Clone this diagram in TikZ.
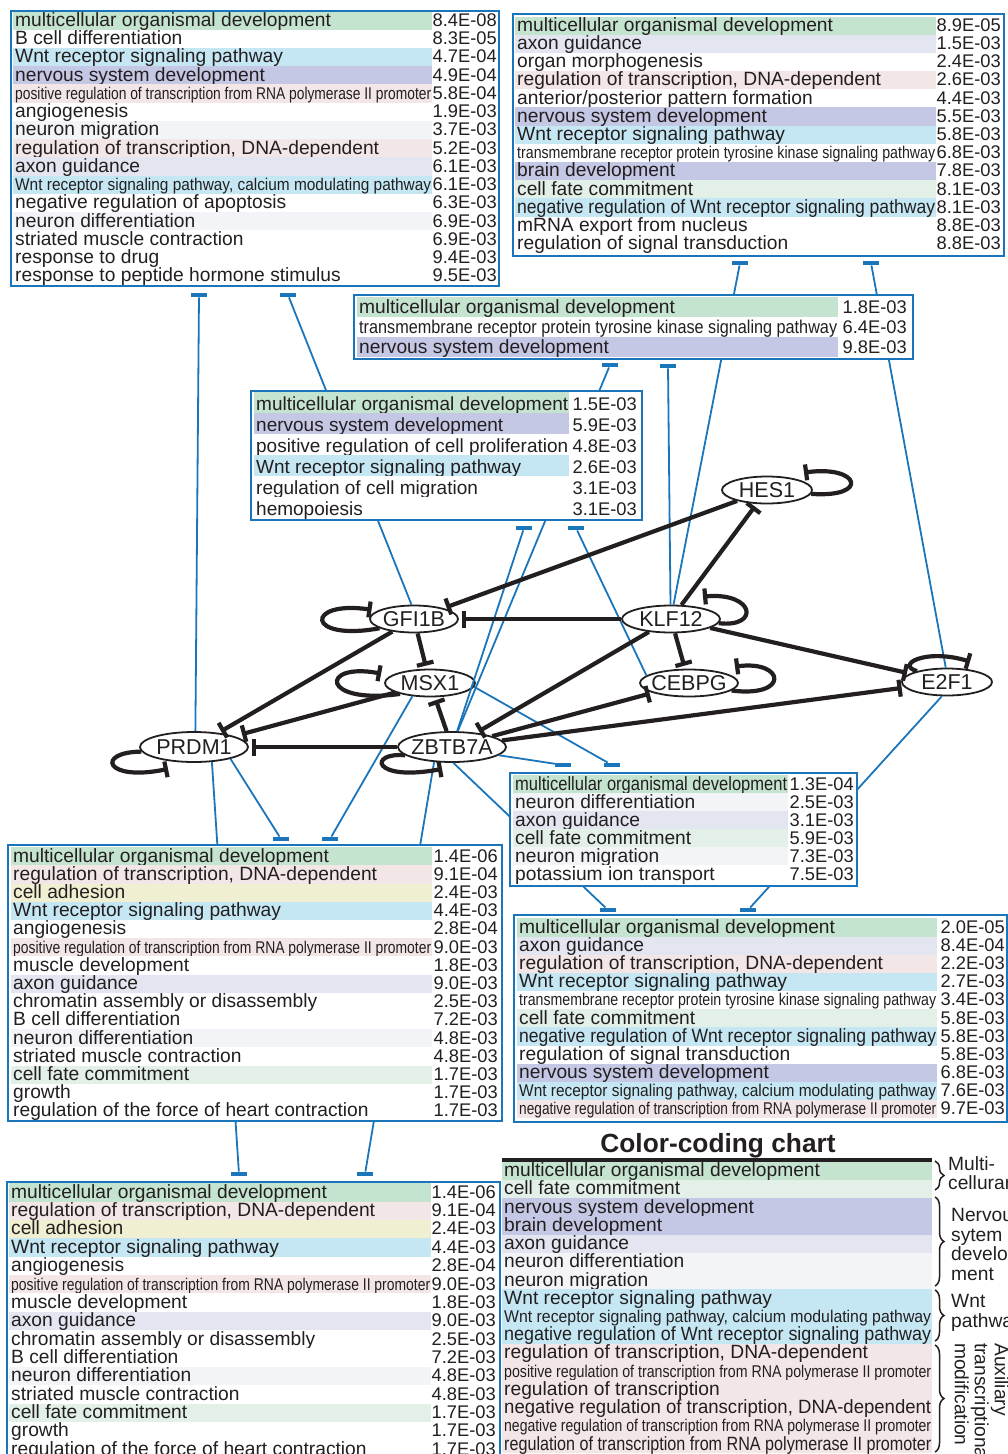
\documentclass[tikz,border=0pt]{standalone}
\usepackage{fontspec}
\setmainfont{Liberation Sans}
\usetikzlibrary{arrows.meta, shapes.geometric, decorations.pathreplacing}

\definecolor{gotext}{HTML}{231F20}
\definecolor{goblue}{HTML}{1B75BB}
\definecolor{multi}{HTML}{C5E4D0}
\definecolor{fate}{HTML}{E2F0E7}
\definecolor{nerv}{HTML}{C5C8E5}
\definecolor{axon}{HTML}{E3E5F0}
\definecolor{neur}{HTML}{F3F4F8}
\definecolor{wnt}{HTML}{C4E7F3}
\definecolor{trsc}{HTML}{F2E6E6}
\definecolor{adh}{HTML}{F1EFD2}

\newsavebox\gofitbox
\newlength\gocolw
% squeeze a label to the column width when it is too long
\newcommand\gofit[1]{\sbox\gofitbox{#1}\ifdim\wd\gofitbox>\gocolw\resizebox{\gocolw}{\height}{#1}\else\usebox\gofitbox\fi}
\newcommand\gosm{\fontsize{17}{18}\selectfont}
\newcommand\gomd{\fontsize{18.5}{19}\selectfont}

% #1 label style, #2 name, #3 fill x, #4 top, #5 pitch, #6 fill width, #7 value x, #8 rows
\newcommand\gotable[8][]{%
  \setlength\gocolw{#6pt}\addtolength\gocolw{-3pt}%
  \foreach \rc/\rt/\rv [count=\i] in {#8}{%
    \fill[fill=\rc] (#3,{#4+(\i-1)*#5}) rectangle +(#6,#5);
    \node (#2-\i) at ({#3+2},{#4+\i*#5-3.3})[golabel,#1]{\gofit{\rt}};
    \ifx\rv\empty\else
    \node (#2-v\i) at (#7,{#4+\i*#5-3.3})[gopval]{\rv};
    \fi
  }}

\tikzset{
  gene/.style={ellipse, draw=gotext, line width=1.8pt, fill=white, inner xsep=-4pt, inner ysep=-4pt,
    minimum height=27pt, text=gotext, font=\fontsize{21.5}{22}\selectfont},
  golabel/.style={anchor=base west, inner sep=0pt, text=gotext, font=\fontsize{19.2}{20}\selectfont},
  gopval/.style={anchor=base east, inner sep=0pt, text=gotext, font=\fontsize{18.3}{20}\selectfont},
  gobox/.style={draw=goblue, line width=2.4pt},
  tbar/.style={fill=goblue, inner sep=0pt, minimum width=16pt, minimum height=4.5pt},
  golink/.style={draw=goblue, line width=1.8pt},
  inhib/.style={draw=gotext, line width=4.2pt, shorten >=3pt, -{Bar[width=17pt]}},
  selfloop/.style={draw=gotext, line width=4.2pt, -{Bar[width=16pt]}},
  gobrace/.style={draw=gotext, line width=1.5pt, decorate, decoration={brace, amplitude=9pt}},
  bracetext/.style={anchor=north west, align=left, inner sep=0pt, text=gotext, font=\fontsize{19.2}{19.6}\selectfont},
}

\begin{document}
\begin{tikzpicture}[x=1pt, y=-1pt]
\useasboundingbox (0,0) rectangle (1008,1454);

% genes
\node (HES1) at (767,490)[gene, minimum width=90pt]{HES1};
\node (GFI1B) at (414,619)[gene, minimum width=88pt]{GFI1B};
\node (KLF12) at (671,619)[gene, minimum width=98pt]{KLF12};
\node (MSX1) at (430,683)[gene, minimum width=90pt]{MSX1};
\node (CEBPG) at (689,683)[gene, minimum width=98pt]{CEBPG};
\node (E2F1) at (947,682)[gene, minimum width=90pt]{E2F1};
\node (PRDM1) at (194,747)[gene, minimum width=108pt, minimum height=30pt]{PRDM1};
\node (ZBTB7A) at (452,747)[gene, minimum width=108pt, minimum height=30pt]{ZBTB7A};

% bars at the GO tables
\node (bA1) at (199,295)[tbar]{};
\node (bA2) at (288,295)[tbar]{};
\node (bB1) at (740,263)[tbar]{};
\node (bB2) at (871,263)[tbar]{};
\node (bC1) at (610,365)[tbar]{};
\node (bC2) at (668,366)[tbar]{};
\node (bD1) at (524,528)[tbar]{};
\node (bD2) at (576,528)[tbar]{};
\node (bE1) at (563,765)[tbar]{};
\node (bE2) at (612,765)[tbar]{};
\node (bF1) at (281,839)[tbar]{};
\node (bF2) at (330,839)[tbar]{};
\node (bG1) at (239,1174)[tbar]{};
\node (bG2) at (365,1174)[tbar]{};
\node (bH1) at (608,910)[tbar]{};
\node (bH2) at (748,910)[tbar]{};

% gene to table links (tables are drawn over them)
\draw[golink] (PRDM1.85) -- (bA1);
\draw[golink] (GFI1B.100) -- (bA2);
\draw[golink] (KLF12.80) -- (bB1);
\draw[golink] (E2F1.95) -- (bB2);
\draw[golink] (ZBTB7A.70) -- (bC1);
\draw[golink] (KLF12.92) -- (bC2);
\draw[golink] (ZBTB7A.72) -- (bD1);
\draw[golink] (CEBPG.170) -- (bD2);
\draw[golink] (ZBTB7A.-10) -- (bE1);
\draw[golink] (MSX1.-5) -- (bE2);
\draw[golink] (PRDM1.-18) -- (bF1);
\draw[golink] (MSX1.-143) -- (bF2);
\draw[golink] (PRDM1.-40) -- (bG1);
\draw[golink] (ZBTB7A.-140) -- (bG2);
\draw[golink] (ZBTB7A.-85) -- (bH1);
\draw[golink] (E2F1.-110) -- (bH2);

% table A
\fill[white] (11,11) rectangle (499,286);
\gotable{A}{13}{11.5}{18.24}{419}{497}{
  multi/{multicellular organismal development}/8.4E-08,
  white/{B cell differentiation}/8.3E-05,
  wnt/{Wnt receptor signaling pathway}/4.7E-04,
  nerv/{nervous system development}/4.9E-04,
  trsc/{\gosm positive regulation of transcription from RNA polymerase II promoter}/5.8E-04,
  white/{angiogenesis}/1.9E-03,
  neur/{neuron migration}/3.7E-03,
  trsc/{regulation of transcription, DNA-dependent}/5.2E-03,
  axon/{axon guidance}/6.1E-03,
  wnt/{\gosm Wnt receptor signaling pathway, calcium modulating pathway}/6.1E-03,
  white/{negative regulation of apoptosis}/6.3E-03,
  neur/{neuron differentiation}/6.9E-03,
  white/{striated muscle contraction}/6.9E-03,
  white/{response to drug}/9.4E-03,
  white/{response to peptide hormone stimulus}/9.5E-03}
\draw[gobox] (11,11) rectangle (499,286);

% table B
\fill[white] (513,14) rectangle (1004,256);
\gotable{B}{515}{16.5}{18.19}{421}{1001}{
  multi/{multicellular organismal development}/8.9E-05,
  axon/{axon guidance}/1.5E-03,
  white/{organ morphogenesis}/2.4E-03,
  trsc/{regulation of transcription, DNA-dependent}/2.6E-03,
  white/{anterior/posterior pattern formation}/4.4E-03,
  nerv/{nervous system development}/5.5E-03,
  wnt/{Wnt receptor signaling pathway}/5.8E-03,
  white/{\gosm transmembrane receptor protein tyrosine kinase signaling pathway}/6.8E-03,
  nerv/{brain development}/7.8E-03,
  fate/{cell fate commitment}/8.1E-03,
  wnt/{negative regulation of Wnt receptor signaling pathway}/8.1E-03,
  white/{mRNA export from nucleus}/8.8E-03,
  white/{regulation of signal transduction}/8.8E-03}
\draw[gobox] (513,14) rectangle (1004,256);

% table C
\fill[white] (354,295) rectangle (913,359);
\gotable{C}{357}{297}{20}{481}{907}{
  multi/{multicellular organismal development}/1.8E-03,
  white/{\gomd transmembrane receptor protein tyrosine kinase signaling pathway}/6.4E-03,
  nerv/{nervous system development}/9.8E-03}
\draw[gobox] (354,295) rectangle (913,359);

% table D
\fill[white] (251,391) rectangle (642,520);
\gotable[font=\fontsize{19}{20}\selectfont]{D}{254}{392.3}{21}{315}{637}{
  multi/{multicellular organismal development}/1.5E-03,
  nerv/{nervous system development}/5.9E-03,
  white/{positive regulation of cell proliferation}/4.8E-03,
  wnt/{Wnt receptor signaling pathway}/2.6E-03,
  white/{regulation of cell migration}/3.1E-03,
  white/{hemopoiesis}/3.1E-03}
\draw[gobox] (251,391) rectangle (642,520);

% table E
\fill[white] (510,773) rectangle (857,886);
\gotable{E}{513}{775.3}{18}{275}{854}{
  multi/{multicellular organismal development}/1.3E-04,
  neur/{neuron differentiation}/2.5E-03,
  axon/{axon guidance}/3.1E-03,
  fate/{cell fate commitment}/5.9E-03,
  neur/{neuron migration}/7.3E-03,
  white/{potassium ion transport}/7.5E-03}
\draw[gobox] (510,773) rectangle (857,886);

% table F
\fill[white] (8,845) rectangle (502,1121);
\gotable{F}{11}{847.1}{18.21}{421}{498}{
  multi/{multicellular organismal development}/1.4E-06,
  trsc/{regulation of transcription, DNA-dependent}/9.1E-04,
  adh/{cell adhesion}/2.4E-03,
  wnt/{Wnt receptor signaling pathway}/4.4E-03,
  white/{angiogenesis}/2.8E-04,
  trsc/{\gosm positive regulation of transcription from RNA polymerase II promoter}/9.0E-03,
  white/{muscle development}/1.8E-03,
  axon/{axon guidance}/9.0E-03,
  white/{chromatin assembly or disassembly}/2.5E-03,
  white/{B cell differentiation}/7.2E-03,
  neur/{neuron differentiation}/4.8E-03,
  white/{striated muscle contraction}/4.8E-03,
  fate/{cell fate commitment}/1.7E-03,
  white/{growth}/1.7E-03,
  white/{regulation of the force of heart contraction}/1.7E-03}
\draw[gobox] (8,845) rectangle (502,1121);

% table G
\fill[white] (7,1182) rectangle (500,1470);
\gotable{G}{9}{1183.2}{18.36}{422}{496}{
  multi/{multicellular organismal development}/1.4E-06,
  trsc/{regulation of transcription, DNA-dependent}/9.1E-04,
  adh/{cell adhesion}/2.4E-03,
  wnt/{Wnt receptor signaling pathway}/4.4E-03,
  white/{angiogenesis}/2.8E-04,
  trsc/{\gosm positive regulation of transcription from RNA polymerase II promoter}/9.0E-03,
  white/{muscle development}/1.8E-03,
  axon/{axon guidance}/9.0E-03,
  white/{chromatin assembly or disassembly}/2.5E-03,
  white/{B cell differentiation}/7.2E-03,
  neur/{neuron differentiation}/4.8E-03,
  white/{striated muscle contraction}/4.8E-03,
  fate/{cell fate commitment}/1.7E-03,
  white/{growth}/1.7E-03,
  white/{regulation of the force of heart contraction}/1.7E-03}
\draw[gobox] (7,1182) rectangle (500,1470);

% table H
\fill[white] (514,915) rectangle (1007,1122);
\gotable{H}{517}{918.4}{18.17}{420}{1005}{
  multi/{multicellular organismal development}/2.0E-05,
  axon/{axon guidance}/8.4E-04,
  trsc/{regulation of transcription, DNA-dependent}/2.2E-03,
  wnt/{Wnt receptor signaling pathway}/2.7E-03,
  white/{\gosm transmembrane receptor protein tyrosine kinase signaling pathway}/3.4E-03,
  fate/{cell fate commitment}/5.8E-03,
  wnt/{negative regulation of Wnt receptor signaling pathway}/5.8E-03,
  white/{regulation of signal transduction}/5.8E-03,
  nerv/{nervous system development}/6.8E-03,
  wnt/{\gosm Wnt receptor signaling pathway, calcium modulating pathway}/7.6E-03,
  trsc/{\gosm negative regulation of transcription from RNA polymerase II promoter}/9.7E-03}
\draw[gobox] (514,915) rectangle (1007,1122);

% regulatory edges
\draw[inhib] (HES1) -- (GFI1B);
\draw[inhib] (KLF12) -- (GFI1B);
\draw[inhib] (KLF12) -- (HES1);
\draw[inhib] (GFI1B) -- (MSX1);
\draw[inhib] (KLF12) -- (CEBPG);
\draw[inhib] (KLF12) -- (E2F1);
\draw[inhib] (GFI1B) -- (PRDM1);
\draw[inhib, shorten >=8pt] (MSX1) -- (PRDM1.15);
\draw[inhib] (ZBTB7A) -- (PRDM1);
\draw[inhib] (ZBTB7A) -- (MSX1);
\draw[inhib] (KLF12) -- (ZBTB7A);
\draw[inhib] (ZBTB7A) -- (CEBPG);
\draw[inhib] (ZBTB7A) -- (E2F1);

% self loops
\draw[selfloop] (GFI1B.195) .. controls (305,642) and (305,600) .. ([shift={(-8,0)}]GFI1B.165);
\draw[selfloop] (MSX1.200) .. controls (320,705) and (320,662) .. ([shift={(-14,0)}]MSX1.165);
\draw[selfloop] (PRDM1.185) .. controls (95,752) and (105,782) .. ([shift={(-26,6)}]PRDM1.south);
\draw[selfloop] (ZBTB7A.190) .. controls (368,752) and (372,782) .. ([shift={(-10,6)}]ZBTB7A.south);
\draw[selfloop] (HES1.-5) .. controls (870,498) and (860,465) .. ([shift={(37,-3)}]HES1.north);
\draw[selfloop] (KLF12.-5) .. controls (760,628) and (755,592) .. ([shift={(32,-8)}]KLF12.north);
\draw[selfloop] (CEBPG.-10) .. controls (790,698) and (785,660) .. ([shift={(46,-2)}]CEBPG.north);
\draw[selfloop] (E2F1.160) .. controls (895,665) and (925,648) .. ([shift={(23,-6)}]E2F1.north);

% colour-coding chart
\node (ctitle) at (718,1152)[anchor=base, inner sep=0pt, text=gotext, font=\bfseries\fontsize{26.3}{28}\selectfont]{Color-coding chart};
\gotable{K}{502}{1161.8}{18.22}{430}{932}{
  multi/{multicellular organismal development}/,
  fate/{cell fate commitment}/,
  nerv/{nervous system development}/,
  nerv/{brain development}/,
  axon/{axon guidance}/,
  neur/{neuron differentiation}/,
  neur/{neuron migration}/,
  wnt/{Wnt receptor signaling pathway}/,
  wnt/{\gosm Wnt receptor signaling pathway, calcium modulating pathway}/,
  wnt/{negative regulation of Wnt receptor signaling pathway}/,
  trsc/{regulation of transcription, DNA-dependent}/,
  trsc/{\gosm positive regulation of transcription from RNA polymerase II promoter}/,
  trsc/{regulation of transcription}/,
  trsc/{negative regulation of transcription, DNA-dependent}/,
  trsc/{\gosm negative regulation of transcription from RNA polymerase II promoter}/,
  trsc/{regulation of transcription from RNA polymerase II promoter}/}
\draw[gotext, line width=4pt] (502,1160) -- (932,1160);

\draw[gobrace] (935,1161) -- (935,1190);
\draw[gobrace] (935,1197) -- (935,1286);
\draw[gobrace] (935,1290) -- (935,1341);
\draw[gobrace] (935,1345) -- (935,1452);
\node (gMulti) at (948,1156)[bracetext]{Multi-\\cellurarity};
\node (gNerv) at (951,1208)[bracetext]{Nervous\\sytem\\develop-\\ment};
\node (gWnt) at (951,1294)[bracetext]{Wnt\\pathway};
\node (gAux) at (1009,1343)[bracetext, rotate=-90, font=\fontsize{19.2}{20}\selectfont]{Auxiliary\\transcriptional\\modification};
\end{tikzpicture}
\end{document}
